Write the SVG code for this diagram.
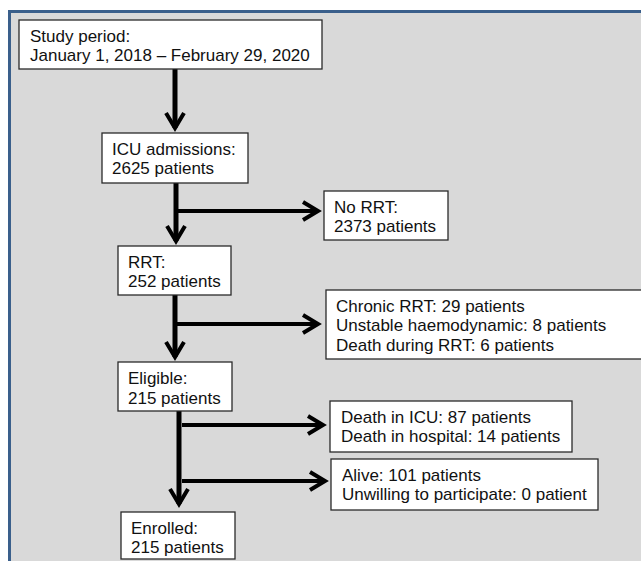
<svg xmlns="http://www.w3.org/2000/svg" width="641" height="561" viewBox="0 0 641 561">
<style>
.bg{fill:#ffffff}
.panel{fill:#d9d9d9;stroke:#3a5f8b;stroke-width:3}
.box{fill:#ffffff;stroke:#2a2a2a;stroke-width:1.3}
.t{font-family:"Liberation Sans",Arial,sans-serif;font-size:17px;fill:#111}
.v{fill:none;stroke:#000;stroke-width:5}
.h{fill:none;stroke:#000;stroke-width:4}
</style>
<defs>
<marker id="ah" markerUnits="userSpaceOnUse" markerWidth="30" markerHeight="30" viewBox="-20 -15 30 30" refX="0" refY="0" orient="auto" overflow="visible">
<path d="M-15,-9 L0,0 L-15,9" fill="none" stroke="#000" stroke-width="4" stroke-linejoin="miter" stroke-miterlimit="10"/>
</marker>
</defs>
<rect class="bg" x="0" y="0" width="641" height="561"/>
<rect class="panel" x="9.5" y="11.5" width="640" height="560"/>
<g id="connectors">
<path class="v" d="M175,69 V128" marker-end="url(#ah)"/>
<path class="v" d="M176,183 V241" marker-end="url(#ah)"/>
<path class="h" d="M176,211 H318" marker-end="url(#ah)"/>
<path class="v" d="M175,295 V357" marker-end="url(#ah)"/>
<path class="h" d="M175,324 H318" marker-end="url(#ah)"/>
<path class="v" d="M179,411 V504" marker-end="url(#ah)"/>
<path class="h" d="M182,425 H323" marker-end="url(#ah)"/>
<path class="h" d="M182,481 H325" marker-end="url(#ah)"/>
</g>
<g id="study">
<rect class="box" x="19" y="20" width="303" height="49"/>
<text class="t" x="30" y="41.5">Study period:</text>
<text class="t" x="30" y="61">January 1, 2018 – February 29, 2020</text>
</g>
<g id="icu">
<rect class="box" x="102" y="133" width="146" height="50"/>
<text class="t" x="112" y="154.5">ICU admissions:</text>
<text class="t" x="112" y="174">2625 patients</text>
</g>
<g id="norrt">
<rect class="box" x="324" y="191" width="124" height="49"/>
<text class="t" x="334" y="212.5">No RRT:</text>
<text class="t" x="334" y="232">2373 patients</text>
</g>
<g id="rrt">
<rect class="box" x="118" y="246" width="113" height="49"/>
<text class="t" x="128" y="267.5">RRT:</text>
<text class="t" x="128" y="287">252 patients</text>
</g>
<g id="excluded">
<rect class="box" x="326" y="290" width="330" height="69"/>
<text class="t" x="336" y="311.5">Chronic RRT: 29 patients</text>
<text class="t" x="336" y="331">Unstable haemodynamic: 8 patients</text>
<text class="t" x="336" y="350.5">Death during RRT: 6 patients</text>
</g>
<g id="eligible">
<rect class="box" x="118" y="362" width="114" height="49"/>
<text class="t" x="128" y="384">Eligible:</text>
<text class="t" x="128" y="403.5">215 patients</text>
</g>
<g id="death">
<rect class="box" x="330" y="401" width="242" height="51"/>
<text class="t" x="341" y="422.5">Death in ICU: 87 patients</text>
<text class="t" x="341" y="442">Death in hospital: 14 patients</text>
</g>
<g id="alive">
<rect class="box" x="331" y="459" width="267" height="51"/>
<text class="t" x="342" y="480.5">Alive: 101 patients</text>
<text class="t" x="342" y="500">Unwilling to participate: 0 patient</text>
</g>
<g id="enrolled">
<rect class="box" x="121" y="512" width="114" height="47"/>
<text class="t" x="131" y="533.5">Enrolled:</text>
<text class="t" x="131" y="553">215 patients</text>
</g>
</svg>
